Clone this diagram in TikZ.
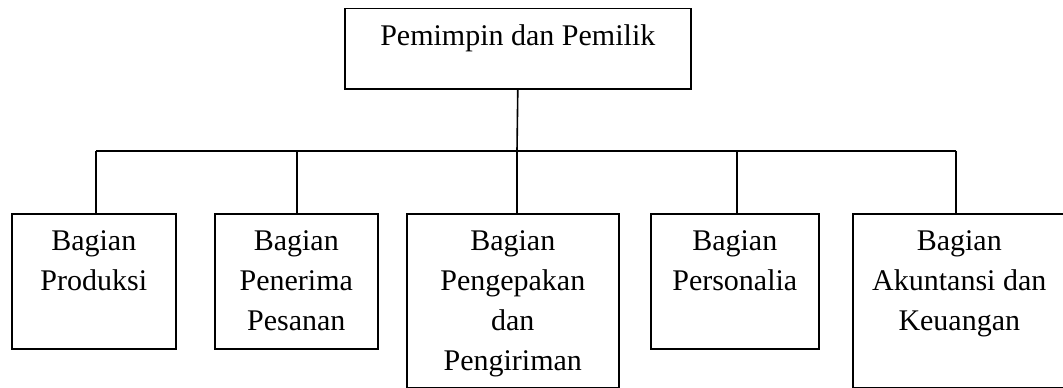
\documentclass[tikz,border=0pt]{standalone}
\usepackage{fontspec}
\setmainfont{Liberation Serif}
\usetikzlibrary{calc}
\begin{document}
\begin{tikzpicture}[x=1pt,y=-1pt,line width=1.6pt,
  box/.style={draw, inner sep=0pt, anchor=north west},
  lbl/.style={anchor=north, inner sep=0pt, align=center, font=\fontsize{30}{40}\selectfont}]
\useasboundingbox (0,0) rectangle (1063,388);
\node[box, minimum width=346pt, minimum height=80.5pt] (top) at (344,7.5) {};
\node[box, minimum width=164pt, minimum height=135pt] (b1) at (11,213) {};
\node[box, minimum width=163pt, minimum height=135pt] (b2) at (214,213) {};
\node[box, minimum width=212pt, minimum height=173.5pt] (b3) at (406,213) {};
\node[box, minimum width=168pt, minimum height=135pt] (b4) at (650,213) {};
\node[box, minimum width=213pt, minimum height=173.5pt] (b5) at (852,213) {};
\node[lbl] (t0) at ($(top.north)+(0,9.5)$) {\strut Pemimpin dan Pemilik};
\node[lbl] (t1) at ($(b1.north)+(0,9)$) {\strut Bagian\\Produksi};
\node[lbl] (t2) at ($(b2.north)+(0,9)$) {\strut Bagian\\Penerima\\Pesanan};
\node[lbl] (t3) at ($(b3.north)+(0,9)$) {\strut Bagian\\Pengepakan\\dan\\Pengiriman};
\node[lbl] (t4) at ($(b4.north)+(0,9)$) {\strut Bagian\\Personalia};
\node[lbl] (t5) at ($(b5.north)+(0,9)$) {\strut Bagian\\Akuntansi dan\\Keuangan};
\coordinate (j1) at (96,150.7);
\coordinate (j2) at (297,150.7);
\coordinate (j3) at (517,150.7);
\coordinate (j4) at (737,150.7);
\coordinate (j5) at (956,150.7);
\draw (top.south) -- (j3);
\draw (j1) -- (j5);
\draw (j1) -- (j1 |- b1.north);
\draw (j2) -- (j2 |- b2.north);
\draw (j3) -- (j3 |- b3.north);
\draw (j4) -- (j4 |- b4.north);
\draw (j5) -- (j5 |- b5.north);
\end{tikzpicture}
\end{document}
